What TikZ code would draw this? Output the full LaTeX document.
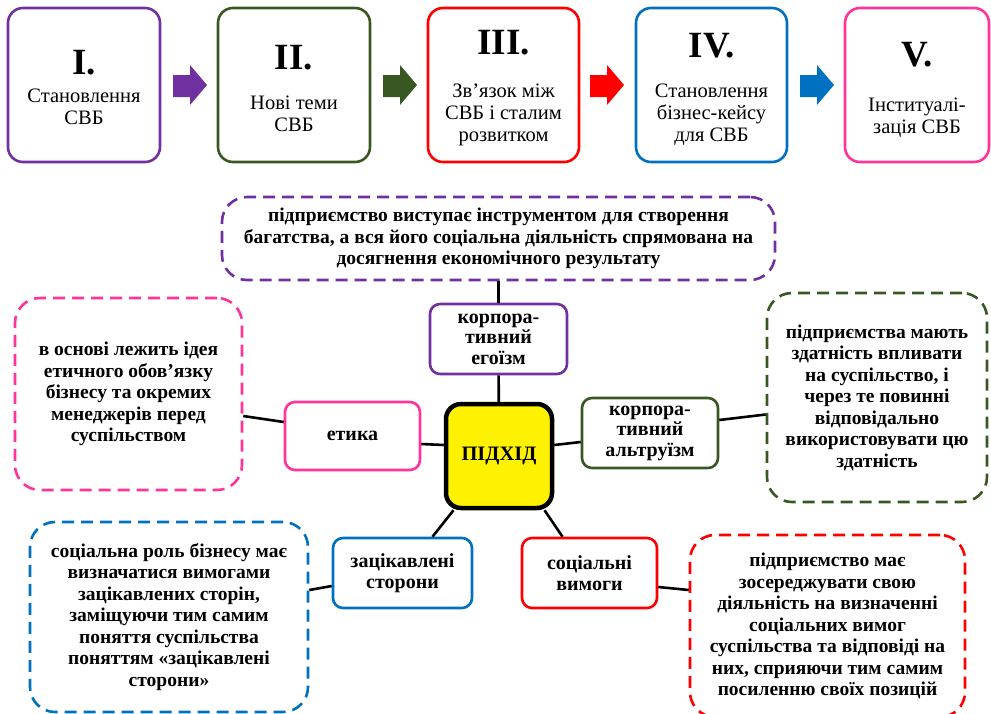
\documentclass[tikz,border=0pt]{standalone}
\usepackage{fontspec}
\setmainfont{Liberation Serif}
\newcommand{\rymfont}{\fontsize{37}{39}\selectfont\bfseries}

\begin{document}
\begin{tikzpicture}[x=1pt, y=-1pt]
            \tikzstyle{etap}  = [draw, line width=2.6pt, rounded corners=15pt, minimum width=152pt, minimum height=154pt]
            \tikzstyle{etapt} = [align=center, inner sep=0pt, font=\fontsize{20.5}{22}\selectfont]
            \tikzstyle{vyd}   = [draw, line width=2.6pt, rounded corners=10pt, align=center, inner sep=0pt, minimum width=136pt, minimum height=70pt, font=\fontsize{20}{20.5}\selectfont\bfseries]
            \tikzstyle{poiasn} = [draw, line width=2.6pt, dash pattern=on 12pt off 7pt, rounded corners=25pt, align=center, inner sep=0pt, font=\fontsize{19.5}{21.5}\selectfont\bfseries]
            \tikzstyle{zv}    = [line width=2.6pt]

            \definecolor{cviol}{RGB}{112,48,160}
            \definecolor{czel}{RGB}{56,87,35}
            \definecolor{cchr}{RGB}{255,0,0}
            \definecolor{csyn}{RGB}{0,112,192}
            \definecolor{crozh}{RGB}{255,51,153}

            \useasboundingbox (0,0) rectangle (991,713);

            % Етапи розвитку СВБ (верхній ряд).
            \def\gora{85}
            \node[etap, draw=cviol] (et1) at (84,\gora) {};
            \node[etap, draw=czel] (et2) at (294,\gora) {};
            \node[etap, draw=cchr, minimum width=151pt] (et3) at (503.5,\gora) {};
            \node[etap, draw=csyn, minimum width=151pt] (et4) at (711.5,\gora) {};
            \node[etap, draw=crozh, minimum width=144pt] (et5) at (917,\gora) {};
            \node[etapt] (et1t) at ([yshift=-2pt]et1.center) {{\rymfont I.}\\[6pt]Становлення\\СВБ};
            \node[etapt] (et2t) at ([yshift=-3pt]et2.center) {{\rymfont II.}\\[18pt]Нові теми\\СВБ};
            \node[etapt] (et3t) at ([yshift=-3pt]et3.center) {{\rymfont III.}\\[21pt]Зв’язок між\\СВБ і сталим\\розвитком};
            \node[etapt] (et4t) at ([yshift=-4pt]et4.center) {{\rymfont IV.}\\[18pt]Становлення\\бізнес-кейсу\\для СВБ};
            \node[etapt] (et5t) at ([yshift=-4.5pt]et5.center) {{\rymfont V.}\\[23pt]Інституалі-\\зація СВБ};

            % Стрілки між етапами
            \foreach \x/\c in {173/cviol, 383/czel, 590/cchr, 800/csyn}
                \fill[\c] (\x,75) -- ++(17,0) -- ++(0,-10) -- ++(17,20) -- ++(-17,20) -- ++(0,-8) -- ++(-17,0) -- cycle;

            % Центр і підходи
            \node[draw, line width=4.5pt, rounded corners=15pt, fill=yellow, minimum width=106pt, minimum height=104pt,
                  font=\fontsize{20.5}{22}\selectfont\bfseries] (pidkhid) at (499,456) {ПІДХІД};
            \node[vyd, draw=cviol, minimum width=137pt] (egoizm) at (498.5,339) {корпора-\\тивний\\егоїзм};
            \node[vyd, draw=crozh, minimum width=135pt, minimum height=68pt] (etyka) at (352.5,436) {етика};
            \node[vyd, draw=czel] (altruizm) at (650,433) {корпора-\\тивний\\альтруїзм};
            \node[vyd, draw=csyn, minimum width=139pt] (storony) at (402.5,573) {зацікавлені\\сторони};
            \node[vyd, draw=cchr, minimum width=135pt] (vymogy) at (589.5,573) {соціальні\\вимоги};

            % Пояснення (пунктирні рамки)
            \node[poiasn, draw=cviol, minimum width=553pt, minimum height=83pt] (egoizmp) at (498.5,238.5)
                {підприємство виступає інструментом для створення\\багатства, а вся його соціальна діяльність спрямована на\\досягнення економічного результату};
            \node[poiasn, draw=crozh, minimum width=227pt, minimum height=192pt] (etykap) at (128.5,394)
                {в основі лежить ідея\\етичного обов’язку\\бізнесу та окремих\\менеджерів перед\\суспільством};
            \node[poiasn, draw=czel, minimum width=220pt, minimum height=209pt] (altruizmp) at (877,397.5)
                {підприємства мають\\здатність впливати\\на суспільство, і\\через те повинні\\відповідально\\використовувати цю\\здатність};
            \node[poiasn, draw=csyn, minimum width=278pt, minimum height=190pt] (storonyp) at (169,617)
                {соціальна роль бізнесу має\\визначатися вимогами\\зацікавлених сторін,\\заміщуючи тим самим\\поняття суспільства\\поняттям «зацікавлені\\сторони»};
            \node[poiasn, draw=cchr, minimum width=275pt, minimum height=182pt] (vymogyp) at (827.5,626)
                {підприємство має\\зосереджувати свою\\діяльність на визначенні\\соціальних вимог\\суспільства та відповіді на\\них, сприяючи тим самим\\посиленню своїх позицій};

            % Лінії
            \draw[zv] (egoizmp) -- (egoizm);
            \draw[zv] (egoizm) -- (pidkhid);
            \draw[zv] ([yshift=-22pt]etykap.east) -- ([yshift=14pt]etyka.west);
            \draw[zv] ([yshift=-8pt]etyka.east) -- ([yshift=11pt]pidkhid.west);
            \draw[zv] ([yshift=11pt]pidkhid.east) -- ([yshift=-9pt]altruizm.west);
            \draw[zv] ([yshift=13pt]altruizm.east) -- ([yshift=-17pt]altruizmp.west);
            \draw[zv] (pidkhid.230) -- ([xshift=30pt]storony.north);
            \draw[zv] (pidkhid.310) -- ([xshift=-27pt]vymogy.north);
            \draw[zv] ([yshift=27pt]storonyp.east) -- ([yshift=-13pt]storony.west);
            \draw[zv] ([yshift=-14pt]vymogy.east) -- ([yshift=36pt]vymogyp.west);

        \end{tikzpicture}
\end{document}
